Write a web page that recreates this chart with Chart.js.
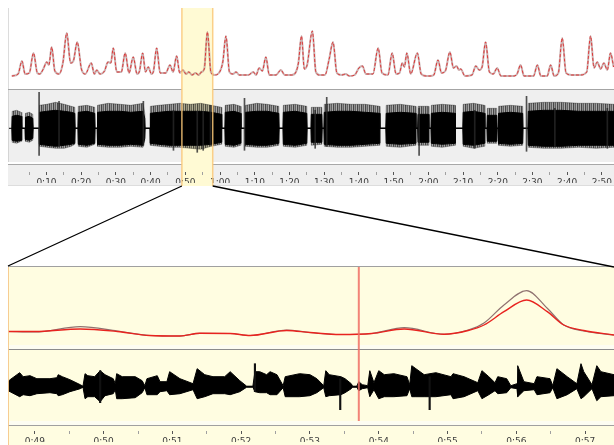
<!DOCTYPE html>
<html>
<head>
<meta charset="utf-8">
<script src="https://cdn.jsdelivr.net/npm/chart.js@4.4.1/dist/chart.umd.min.js"></script>
<style>
  body { margin: 0; width: 614px; height: 445px; overflow: hidden; position: relative; background: #fff; }
</style>
</head>
<body>
<script>
// ---- data (times in seconds) ----

// overview loudness curve
var ovEnvTime = [0, 1.8, 2.9, 3.8, 5.0, 6.2, 7.3, 8.0, 9.0, 10.0, 10.6, 11.4, 12.3, 13.5, 14.6, 15.7, 16.8, 17.6, 18.7, 19.9,
  21.0, 22.7, 23.6, 24.3, 25.2, 26.5, 27.5, 28.3, 29.0, 30.0, 31.3, 32.4, 33.5, 34.7, 35.8, 36.5, 37.4, 38.2, 39.0, 39.9,
  40.5, 41.4, 42.4, 44.0, 45.2, 46.1, 47.1, 48.0, 48.9, 49.8, 50.6, 51.5, 52.5, 53.4, 54.2, 55.0, 55.9, 56.9, 58.0, 59.2,
  60.3, 61.2, 62.2, 63.2, 64.1, 65.0, 66.5, 67.6, 69.0, 69.8, 70.7, 71.6, 72.6, 73.6, 75.5, 76.9, 78.0, 80.0, 81.2, 81.9,
  82.8, 83.6, 84.4, 85.9, 86.9, 88.0, 89.5, 90.7, 91.8, 92.9, 94.3, 95.4, 96.5, 98.0, 99.2, 100.2, 101.2, 103.2, 104.7, 105.8,
  107.5, 108.7, 109.8, 110.8, 111.6, 112.2, 112.9, 114.0, 115.9, 117.0, 118.5, 119.5, 120.6, 121.8, 122.8, 123.9, 125.2, 126.2, 127.1, 127.8,
  128.3, 129.5, 131.5, 132.6, 133.6, 134.4, 135.4, 136.5, 137.6, 138.7, 139.8, 142.0, 143.5, 144.4, 145.4, 146.4, 149.1, 150.2, 151.2, 153.0,
  154.0, 155.0, 156.2, 157.3, 158.4, 160.0, 162.5, 164.3, 165.4, 166.4, 167.3, 168.3, 169.2, 170.2, 171.1, 172.0];
var ovEnvLevel = [1, 3, 16, 3, 4, 24, 4, 3, 8, 15, 12, 30, 6, 3, 14, 44, 14, 16, 35, 8,
  3, 14, 3, 7, 3, 6, 15, 14, 29, 5, 5, 24, 4, 20, 3, 6, 24, 5, 10, 3,
  6, 29, 4, 4, 12, 5, 21, 4, 7, 3, 5, 2, 4, 2, 5, 8, 45, 5, 2, 4,
  15, 41, 5, 3, 5, 2, 2, 2, 5, 2, 9, 6, 20, 2, 2, 7, 2, 2, 5, 14,
  41, 8, 12, 46, 5, 2, 2, 18, 35, 4, 2, 3, 1, 2, 9, 11, 3, 3, 29, 4,
  2, 24, 3, 4, 14, 10, 24, 3, 24, 3, 1, 1, 2, 17, 4, 6, 25, 9, 11, 7,
  8, 1, 2, 11, 7, 10, 35, 5, 3, 9, 1, 1, 1, 3, 12, 1, 1, 12, 1, 1,
  12, 1, 4, 39, 4, 2, 2, 5, 41, 9, 15, 8, 14, 7, 24, 10];

// overview waveform envelope: peak max / peak min / rms
var ovWaveTime = [0.0, 0.1, 1.4, 2.7, 2.86, 3.8, 3.9, 5.0, 6.0, 6.1,
  7.8, 7.9, 10.0, 12.5, 15.0, 17.0, 18.0, 18.1, 18.9, 19.0, 21.5, 23.7, 23.8,
  24.4, 24.5, 27.5, 31.0, 34.0, 37.5, 38.0, 38.1,
  39.5, 39.6, 42.0, 45.0, 48.0, 51.0, 54.0, 57.0, 59.9, 60.0,
  60.9, 61.0, 63.5, 65.4, 65.5, 66.7, 66.8, 70.0, 73.0, 76.3, 76.4,
  77.5, 77.6, 81.0, 84.3, 84.4, 85.5, 85.6, 88.6, 88.7,
  89.2, 89.3, 93.0, 97.0, 101.0, 105.1, 105.2, 106.9, 107.0, 111.0, 115.4, 115.5,
  116.0, 116.1, 119.1, 119.2, 119.8, 119.9, 123.0, 126.7, 126.8,
  128.9, 129.0, 132.0, 135.1, 135.2, 135.8, 135.9, 138.6, 138.7,
  139.0, 139.1, 142.5, 146.0, 146.1, 147.5, 147.6, 152.0, 157.0, 162.0, 167.0, 172.1];
var ovWaveMax = [0, 17, 18, 16, 0, 0, 15, 16, 14, 0,
  0, 23, 24, 26, 24, 22, 21, 0, 0, 22, 23, 21, 0,
  0, 23, 25, 24, 23, 25, 15, 0,
  0, 22, 23, 24, 25, 24, 25, 23, 21, 0,
  0, 23, 24, 22, 0, 0, 23, 25, 24, 22, 0,
  0, 23, 24, 22, 0, 0, 21, 21, 0,
  0, 24, 25, 24, 24, 22, 0, 0, 23, 24, 22, 0,
  0, 22, 22, 0, 0, 23, 24, 23, 0,
  0, 24, 25, 23, 0, 0, 20, 20, 0,
  0, 22, 23, 22, 0, 0, 25, 26, 26, 25, 25, 24];
var ovWaveMin = [0, -14, -15, -13, 0, 0, -13, -14, -12, 0,
  0, -18, -19, -20, -20, -18, -16, 0, 0, -18, -19, -16, 0,
  0, -18, -19, -19, -18, -19, -12, 0,
  0, -17, -18, -19, -19, -20, -21, -18, -16, 0,
  0, -18, -19, -17, 0, 0, -18, -19, -19, -17, 0,
  0, -18, -19, -17, 0, 0, -17, -16, 0,
  0, -18, -19, -19, -18, -17, 0, 0, -18, -19, -17, 0,
  0, -17, -17, 0, 0, -18, -19, -17, 0,
  0, -18, -20, -18, 0, 0, -15, -15, 0,
  0, -17, -18, -17, 0, 0, -19, -20, -20, -19, -20, -19];
var ovWaveRms = [0, 12, 13, 12, 0, 0, 11, 12, 10, 0,
  0, 16, 17, 18, 17, 16, 15, 0, 0, 16, 17, 15, 0,
  0, 16, 17, 17, 16, 17, 10, 0,
  0, 15, 16, 17, 17, 17, 17, 16, 14, 0,
  0, 16, 17, 15, 0, 0, 16, 17, 17, 15, 0,
  0, 16, 17, 15, 0, 0, 14, 14, 0,
  0, 16, 17, 17, 16, 15, 0, 0, 15, 16, 15, 0,
  0, 14, 14, 0, 0, 15, 16, 15, 0,
  0, 16, 17, 15, 0, 0, 13, 13, 0,
  0, 15, 16, 15, 0, 0, 17, 18, 18, 17, 17, 17];
var ovSpikeTime = [7.8, 13.5, 37.6, 46.2, 53.0, 54.7, 56.8, 66.5, 86.7, 90.0, 116.4, 132.3, 147.1, 155.2, 170.2];
var ovSpikeMax = [36, 27, 27, 18, 17, 17, 23, 30, 18, 31, 20, 18, 32, 20, 20];
var ovSpikeMin = [-27, -18, -17, -22, -24, -22, -17, -22, -20, -18, -27, -20, -23, -18, -20];

// zoomed selection
var zoomStart = 48.61;
var zoomEnd = 57.42;
var cursorTime = 53.71;

var dtEnvTime = [48.61, 49.0, 49.66, 50.2, 50.67, 51.11, 51.4, 51.84, 52.13, 52.66, 53.0, 53.44, 53.9, 54.37, 54.95, 55.3, 55.53, 55.82, 56.15, 56.45, 56.69, 56.98, 57.42];
var dtEnvBrown = [4.5, 4, 9.3, 5, 0.5, 0, 2.7, 2.5, 0.5, 6, 3.5, 1.5, 2.5, 8.3, 1.7, 6, 13, 31, 45.3, 27.7, 11, 5, 1];
var dtEnvRed = [4.5, 4.5, 7, 4.5, 0.5, 0, 2.7, 2.5, 0.5, 5.5, 3.5, 1.5, 2.5, 7, 1.7, 5.5, 11, 24.3, 36, 24.3, 11, 5.5, 1];

var dtWaveTime = [48.61, 48.64, 48.78, 48.83, 48.93, 49.03, 49.22, 49.32, 49.34, 49.40, 49.51, 49.66, 49.70, 49.73, 49.77, 49.87,
  49.95, 50.02, 50.14, 50.17, 50.19, 50.27, 50.46, 50.56, 50.60, 50.63, 50.78, 50.82, 50.92, 50.96, 51.11, 51.30,
  51.36, 51.47, 51.59, 51.76, 51.84, 51.98, 52.08, 52.17, 52.20, 52.27, 52.37, 52.42, 52.52, 52.61, 52.64, 52.85,
  53.00, 53.10, 53.20, 53.23, 53.28, 53.45, 53.51, 53.60, 53.62, 53.68, 53.71, 53.76, 53.84, 53.87, 53.93, 54.00,
  54.08, 54.22, 54.41, 54.45, 54.48, 54.54, 54.66, 54.83, 55.05, 55.08, 55.24, 55.44, 55.50, 55.60, 55.69, 55.73,
  55.86, 55.92, 56.01, 56.02, 56.11, 56.26, 56.30, 56.49, 56.53, 56.59, 56.74, 56.88, 56.94, 56.98, 57.10, 57.17,
  57.23, 57.42];
var dtWaveMax = [5, 7, 14, 10, 11, 8, 8, 9, 12, 10, 7, 2, 0.5, 13, 11, 10,
  16, 12, 8, 3, 13, 10, 10, 6, 1, 8, 11, 5, 5, 15, 8, 3,
  18, 12, 10, 10, 15, 6, 0.5, 0.5, 15, 15, 12, 15, 12, 1, 10, 13,
  12, 8, 1, 16, 12, 10, 8, 3, 0.5, 0.5, 5, 2, 1, 16, 4, 16,
  12, 13, 10, 2, 21, 18, 12, 14, 10, 13, 10, 4, 16, 10, 4, 10,
  8, 1, 3, 21, 5, 3, 10, 8, 1, 18, 10, 3, 23, 15, 2, 21,
  15, 12];
var dtWaveMin = [-4, -5, -10, -8, -9, -7, -6, -7, -9, -8, -5, -2, -0.5, -12, -10, -10,
  -15, -9, -7, -3, -12, -12, -11, -6, -1, -8, -8, -5, -4, -8, -7, -3,
  -12, -10, -7, -7, -8, -5, -0.5, -0.5, -5, -6, -6, -8, -8, -1, -10, -10,
  -9, -6, -1, -10, -9, -8, -6, -2, -0.5, -0.5, -4, -2, -1, -10, -3, -12,
  -10, -10, -9, -2, -10, -10, -10, -10, -8, -12, -10, -4, -12, -8, -4, -7,
  -6, -1, -2, -10, -4, -3, -8, -6, -1, -12, -8, -2, -12, -10, -2, -14,
  -10, -9];
var dtSpikeTime = [49.95, 52.20, 53.44, 54.74];
var dtSpikeMax = [16, 23, 8, 10];
var dtSpikeMin = [-16, -5, -23, -23];

// ---- page ----
Chart.defaults.font.family = '"DejaVu Sans", sans-serif';
Chart.defaults.font.size = 9;

var ovMin = -0.8, ovMax = 172.1;

function box(left, top, width, height, bg) {
  var d = document.createElement('div');
  d.style.cssText = 'position:absolute;z-index:0;left:' + left + 'px;top:' + top + 'px;width:' + width + 'px;height:' + height + 'px;background:' + bg;
  document.body.appendChild(d);
}
function canvasAt(left, top, width, height, z) {
  var c = document.createElement('canvas');
  c.width = width; c.height = height;
  c.style.cssText = 'position:absolute;left:' + left + 'px;top:' + top + 'px;z-index:' + z;
  document.body.appendChild(c);
  return c;
}
function pts(times, vals) {
  return times.map(function (t, i) { return { x: t, y: vals[i] }; });
}
function bars(times, lo, hi) {
  return times.map(function (t, i) { return { x: t, y: [lo[i], hi[i]] }; });
}
function fmt(v) {
  var s = Math.round(v % 60);
  return Math.floor(v / 60) + ':' + (s < 10 ? '0' : '') + s;
}
function near(v, step) { return Math.abs(v / step - Math.round(v / step)) < 1e-6; }

function baseOptions(xmin, xmax, ymin, ymax) {
  return {
    responsive: false, animation: false, events: [],
    layout: { padding: 0 },
    plugins: { legend: { display: false }, tooltip: { enabled: false } },
    scales: {
      x: { type: 'linear', min: xmin, max: xmax, offset: false, display: false },
      y: { type: 'linear', min: ymin, max: ymax, display: false }
    }
  };
}

function axisChart(canvas, xmin, xmax, step, major, minor) {
  return new Chart(canvas, {
    type: 'line',
    data: { datasets: [] },
    options: {
      responsive: false, animation: false, events: [],
      layout: { padding: 0 },
      plugins: { legend: { display: false }, tooltip: { enabled: false } },
      scales: {
        x: {
          type: 'linear', min: xmin, max: xmax, offset: false, position: 'bottom',
          border: { display: false },
          grid: {
            drawOnChartArea: false, tickLength: 3,
            tickColor: function (c) {
              if (!c.tick) return 'rgba(0,0,0,0)';
              var v = c.tick.value;
              return major(v) ? '#555' : (minor(v) ? '#a0a0a0' : 'rgba(0,0,0,0)');
            }
          },
          ticks: {
            stepSize: step, includeBounds: false, autoSkip: false, maxRotation: 0, padding: 2, color: '#3c3c3c',
            callback: function (v) { return major(v) ? fmt(v) : ''; }
          }
        },
        y: { display: false, min: 0, max: 1 }
      }
    }
  });
}

function hairPattern() {
  var c = document.createElement('canvas');
  c.width = 4; c.height = 1;
  var g = c.getContext('2d');
  ['rgba(0,0,0,0.7)', 'rgba(0,0,0,0.4)', 'rgba(0,0,0,0.6)', 'rgba(0,0,0,0.3)'].forEach(function (col, i) {
    g.fillStyle = col; g.fillRect(i, 0, 1, 1);
  });
  return g.createPattern(c, 'repeat');
}

// panel backgrounds
box(8, 8, 1, 81, '#dcdcdc');
box(8, 89, 606, 1, '#a4a4a4');
box(8, 90, 606, 72, '#efefef');
box(8, 90, 1, 72, '#d4d4d4');
box(8, 164, 606, 1, '#a8a8a8');
box(8, 165, 606, 20, '#efefef');
box(8, 185, 606, 1, '#dddddd');

box(8, 266, 606, 1, '#a0a0a0');
box(8, 267, 606, 78, '#fffde1');
box(8, 345, 606, 4, '#fdfdf2');
box(8, 349, 606, 1, '#8c8c8c');
box(8, 350, 606, 71, '#fffde1');
box(8, 421, 606, 4, '#fdfdf2');
box(8, 425, 606, 1, '#a0a0a0');
box(8, 426, 606, 19, '#fffde1');

var under = canvasAt(0, 0, 614, 445, 1);

// overview loudness
var envPts = pts(ovEnvTime, ovEnvLevel);
var ovEnvChart = new Chart(canvasAt(9, 8, 605, 81, 2), {
  type: 'line',
  data: {
    datasets: [
      { data: envPts, borderColor: 'rgba(225,25,25,0.8)', borderWidth: 1, borderDash: [3, 2], pointRadius: 0, cubicInterpolationMode: 'monotone' },
      { data: envPts, borderColor: 'rgba(160,115,115,0.55)', borderWidth: 2, pointRadius: 0, cubicInterpolationMode: 'monotone' }
    ]
  },
  options: baseOptions(ovMin, ovMax, -12, 69)
});

// overview waveform
new Chart(canvasAt(9, 91, 605, 71, 2), {
  type: 'line',
  data: {
    datasets: [
      { type: 'bar', data: bars(ovSpikeTime, ovSpikeMin, ovSpikeMax), backgroundColor: 'rgba(40,40,40,0.8)', barThickness: 1 },
      { data: pts(ovWaveTime, ovWaveRms), borderColor: '#000', borderWidth: 1, pointRadius: 0 },
      { data: pts(ovWaveTime, ovWaveRms.map(function (v) { return -v; })), borderColor: '#000', borderWidth: 1, pointRadius: 0, fill: '-1', backgroundColor: '#000' },
      { data: pts(ovWaveTime, ovWaveMax), borderColor: 'rgba(0,0,0,0.3)', borderWidth: 1, pointRadius: 0 },
      { data: pts(ovWaveTime, ovWaveMin), borderColor: 'rgba(0,0,0,0.3)', borderWidth: 1, pointRadius: 0, fill: '-1', backgroundColor: hairPattern() },
      { data: [{ x: ovMin, y: 0 }, { x: ovMax, y: 0 }], borderColor: '#000', borderWidth: 1, pointRadius: 0 }
    ]
  },
  options: baseOptions(ovMin, ovMax, -33.7, 37.3)
});

// overview time axis (transparent canvas, placed so ticks sit under the strip's top edge)
axisChart(canvasAt(9, 161, 605, 22, 2), ovMin, ovMax, 5,
  function (v) { return v > 0 && near(v, 10); },
  function (v) { return v > 0 && near(v, 5); });

// zoomed loudness
var dtEnvChart = new Chart(canvasAt(8, 267, 606, 78, 2), {
  type: 'line',
  data: {
    datasets: [
      { data: pts(dtEnvTime, dtEnvRed), borderColor: '#e8231f', borderWidth: 1.4, pointRadius: 0, cubicInterpolationMode: 'monotone' },
      { data: pts(dtEnvTime, dtEnvBrown), borderColor: '#8f7270', borderWidth: 1.2, pointRadius: 0, cubicInterpolationMode: 'monotone' }
    ]
  },
  options: baseOptions(zoomStart, zoomEnd, -9, 69)
});

// zoomed waveform
new Chart(canvasAt(8, 350, 606, 71, 2), {
  type: 'line',
  data: {
    datasets: [
      { type: 'bar', data: bars(dtSpikeTime, dtSpikeMin, dtSpikeMax), backgroundColor: '#111', barThickness: 1.5 },
      { data: pts(dtWaveTime, dtWaveMax), borderColor: '#000', borderWidth: 1, pointRadius: 0 },
      { data: pts(dtWaveTime, dtWaveMin), borderColor: '#000', borderWidth: 1, pointRadius: 0, fill: '-1', backgroundColor: '#000' },
      { data: [{ x: zoomStart, y: 0 }, { x: zoomEnd, y: 0 }], borderColor: '#000', borderWidth: 1, pointRadius: 0 }
    ]
  },
  options: baseOptions(zoomStart, zoomEnd, -34.3, 36.7)
});

// zoomed time axis
axisChart(canvasAt(8, 420, 606, 22, 2), zoomStart, zoomEnd, 0.5,
  function (v) { return near(v, 1); },
  function (v) { return near(v, 0.5); });

// selection band, zoom guides and cursor
var over = canvasAt(0, 0, 614, 445, 3);
var hx0 = 9 + ovEnvChart.scales.x.getPixelForValue(zoomStart);
var hx1 = 9 + ovEnvChart.scales.x.getPixelForValue(zoomEnd);
var u = under.getContext('2d');
u.fillStyle = '#fffad4';
u.fillRect(hx0, 8, hx1 - hx0, 178);

var o = over.getContext('2d');
o.strokeStyle = 'rgba(250,200,120,0.85)';
o.lineWidth = 1.5;
o.beginPath();
o.moveTo(hx0, 8); o.lineTo(hx0, 186);
o.moveTo(hx1, 8); o.lineTo(hx1, 186);
o.stroke();

o.strokeStyle = 'rgba(246,200,138,0.9)';
o.lineWidth = 1;
o.beginPath();
o.moveTo(8.5, 267); o.lineTo(8.5, 445);
o.stroke();

var dLeft = 8 + dtEnvChart.scales.x.getPixelForValue(zoomStart);
var dRight = 8 + dtEnvChart.scales.x.getPixelForValue(zoomEnd);
o.strokeStyle = '#000';
o.lineWidth = 1.3;
o.beginPath();
o.moveTo(hx0, 186); o.lineTo(dLeft, 266);
o.moveTo(hx1, 186); o.lineTo(dRight, 267);
o.stroke();

var cx = 8 + dtEnvChart.scales.x.getPixelForValue(cursorTime);
o.strokeStyle = 'rgba(240,110,100,0.85)';
o.lineWidth = 2;
o.beginPath();
o.moveTo(cx, 267); o.lineTo(cx, 421);
o.stroke();
</script>
</body>
</html>
